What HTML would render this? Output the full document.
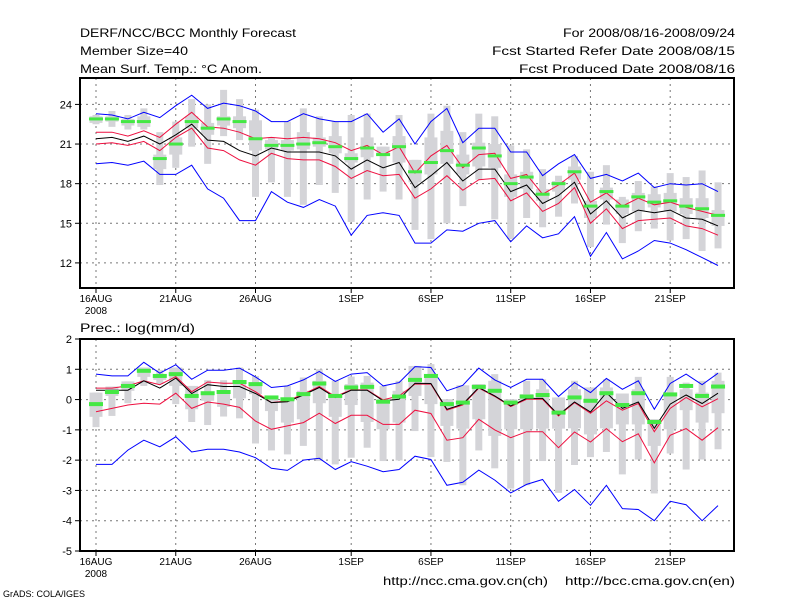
<!DOCTYPE html>
<html><head><meta charset="utf-8"><style>
body{margin:0;background:#fff;}
svg{display:block;font-family:"Liberation Sans",sans-serif;}
</style></head><body>
<svg id="chart" width="800" height="600" viewBox="0 0 800 600" xmlns="http://www.w3.org/2000/svg">
<rect width="800" height="600" fill="#fff"/>
<g font-size="12" fill="#000">
<text x="80" y="37" textLength="216" lengthAdjust="spacingAndGlyphs">DERF/NCC/BCC Monthly Forecast</text>
<text x="80" y="55" textLength="108" lengthAdjust="spacingAndGlyphs">Member Size=40</text>
<text x="80" y="73" textLength="182" lengthAdjust="spacingAndGlyphs">Mean Surf. Temp.: °C Anom.</text>
<text x="563" y="37" textLength="172" lengthAdjust="spacingAndGlyphs">For 2008/08/16-2008/09/24</text>
<text x="492" y="55" textLength="243" lengthAdjust="spacingAndGlyphs">Fcst Started Refer Date 2008/08/15</text>
<text x="519" y="73" textLength="216" lengthAdjust="spacingAndGlyphs">Fcst Produced Date 2008/08/16</text>
<text x="80" y="332" textLength="115" lengthAdjust="spacingAndGlyphs">Prec.: log(mm/d)</text>
<text x="383" y="585" textLength="165" lengthAdjust="spacingAndGlyphs">http://ncc.cma.gov.cn(ch)</text>
<text x="565" y="585" textLength="170" lengthAdjust="spacingAndGlyphs">http://bcc.cma.gov.cn(en)</text>
<text x="3" y="597" font-size="9">GrADS: COLA/IGES</text>
</g>
<g id="p1"></g>
<g id="p2"></g>
</svg>
<script>
const tickDays=[0,5,10,16,21,26,31,36];
const tickLabels=["16AUG","21AUG","26AUG","1SEP","6SEP","11SEP","16SEP","21SEP"];
const tTicks=[12,15,18,21,24];
const pTicks=[-5,-4,-3,-2,-1,0,1,2];
// Temperature
const tBlueHi=[23.3,23.2,22.9,23.4,23.0,23.9,24.7,23.7,24.1,23.9,23.5,22.7,22.7,23.3,22.9,22.7,22.7,23.3,21.9,22.9,21.0,22.7,23.7,21.1,22.2,22.2,20.4,20.4,18.6,19.5,20.2,18.4,18.7,18.2,18.8,17.7,18.0,17.9,18.0,17.4];
const tBlack=[21.4,21.5,21.2,21.6,21.0,21.7,22.5,21.3,21.2,20.5,20.1,20.7,20.4,20.4,20.4,20.1,19.1,19.8,19.2,19.6,17.7,18.6,19.6,18.2,19.1,19.1,17.4,17.9,16.5,17.1,18.1,15.7,16.7,15.4,16.0,15.8,16.0,15.4,15.3,14.8];
const tRedHi=[21.9,21.9,21.6,22.0,21.5,22.5,23.4,22.3,22.2,21.9,21.4,21.5,21.4,21.5,21.4,21.1,20.5,20.9,20.2,20.8,18.8,20.1,20.9,19.2,20.2,20.3,18.4,18.7,17.2,17.9,18.8,16.6,17.3,16.3,16.9,16.4,16.6,16.2,15.9,15.6];
const tRedLo=[21.0,21.1,20.9,21.2,20.5,21.5,22.2,20.7,20.5,19.8,19.4,20.3,19.9,19.8,19.8,19.3,18.4,19.0,18.6,18.7,16.9,17.6,18.6,17.5,18.3,18.4,16.7,17.3,15.9,16.5,17.7,15.0,16.1,14.6,15.2,15.3,15.4,14.8,14.6,14.1];
const tBlueLo=[19.5,19.6,19.4,19.7,18.7,18.7,19.4,17.6,16.9,15.2,15.2,17.4,16.6,16.2,16.8,16.3,14.1,15.6,15.8,15.6,13.5,13.5,14.5,14.4,15.0,15.2,13.6,14.8,13.9,14.2,15.5,12.5,14.3,12.3,12.9,13.7,13.5,13.0,12.4,11.8];
const tMed=[22.9,22.9,22.7,22.7,19.9,21.0,22.7,22.2,22.9,22.7,21.4,20.9,20.9,21.0,21.1,20.8,19.9,20.7,20.2,20.8,18.9,19.6,20.5,19.4,20.7,20.1,18.0,18.5,17.2,18.0,18.9,16.3,17.4,16.3,17.0,16.6,16.7,16.3,16.1,15.6];
const tMax=[23.2,23.5,23.2,23.7,21.9,22.7,24.4,24.0,25.1,24.4,23.6,21.5,22.7,23.7,23.1,22.7,23.2,23.3,20.8,23.2,19.8,23.3,23.9,21.9,23.3,23.1,20.9,20.6,19.1,18.6,20.1,18.9,19.4,17.0,18.2,17.8,18.8,18.5,19.0,18.1];
const tMin=[22.5,22.3,22.1,22.1,17.9,19.2,20.8,19.5,21.6,21.3,17.0,18.1,17.0,16.4,17.9,17.3,15.1,16.8,17.4,16.8,14.5,13.8,15.0,16.3,18.3,15.3,13.8,15.4,14.7,15.5,16.5,13.2,14.9,13.5,14.4,14.6,13.7,13.8,12.9,13.1];
const tQ3=[23.1,23.1,22.9,23.1,20.2,21.5,23.1,22.6,23.1,23.1,22.8,21.3,21.3,21.9,21.5,21.6,20.3,21.5,20.8,21.6,19.8,21.5,22.0,20.2,21.1,21.0,18.7,18.9,17.6,18.2,19.3,16.7,17.7,16.8,17.3,17.2,17.3,16.9,16.9,16.0];
const tQ1=[22.6,22.7,22.4,22.3,19.1,20.2,22.2,21.7,22.4,22.2,20.5,20.6,20.5,20.6,20.8,20.3,19.6,20.0,20.1,19.6,18.1,18.7,19.5,18.7,19.3,19.2,17.0,17.6,16.7,17.4,18.3,15.4,16.8,15.7,15.9,16.2,15.9,15.7,15.4,14.8];
// Precipitation
const pBlueHi=[0.84,0.78,0.78,1.23,0.87,1.15,0.67,0.97,0.97,1.04,0.75,0.40,0.45,0.65,0.93,0.60,0.84,0.89,0.45,0.56,1.09,1.06,0.29,0.47,1.04,0.65,0.40,0.67,0.67,0.10,0.56,0.23,0.70,0.34,0.62,-0.32,0.53,0.84,0.49,0.87];
const pBlack=[0.31,0.31,0.31,0.62,0.38,0.71,0.20,0.49,0.43,0.43,0.20,-0.10,-0.07,0.15,0.40,0.07,0.31,0.31,-0.04,0.01,0.54,0.53,-0.32,-0.15,0.40,0.12,-0.21,0.04,0.04,-0.51,-0.08,-0.41,0.23,-0.29,-0.08,-0.95,-0.15,0.15,-0.13,0.21];
const pRedHi=[0.38,0.38,0.45,0.62,0.49,0.76,0.26,0.58,0.54,0.54,0.26,-0.10,-0.04,0.18,0.43,0.10,0.32,0.32,-0.01,0.12,0.51,0.51,-0.35,-0.18,0.38,0.10,-0.23,0.01,0.01,-0.54,-0.10,-0.45,-0.04,-0.35,-0.13,-1.06,-0.29,0.07,-0.24,0.03];
const pRedLo=[-0.40,-0.29,-0.18,-0.12,-0.15,0.21,-0.29,-0.08,-0.15,-0.26,-0.71,-0.98,-0.87,-0.76,-0.45,-0.79,-0.52,-0.52,-0.82,-0.82,-0.35,-0.46,-1.34,-1.26,-0.65,-1.00,-1.26,-1.06,-1.06,-1.59,-1.07,-1.40,-0.96,-1.39,-1.13,-2.09,-1.18,-0.96,-1.34,-0.93];
const pBlueLo=[-2.14,-2.14,-1.67,-1.34,-1.56,-1.23,-1.73,-1.64,-1.64,-1.73,-1.92,-2.27,-2.34,-2.00,-1.94,-2.31,-2.05,-2.20,-2.38,-2.31,-1.87,-1.98,-2.83,-2.73,-2.33,-2.66,-3.08,-2.80,-2.64,-3.36,-2.97,-3.49,-2.83,-3.60,-3.63,-4.00,-3.36,-3.47,-4.00,-3.50];
const pMed=[-0.15,0.25,0.45,0.95,0.78,0.84,0.12,0.21,0.25,0.58,0.51,0.07,0.01,0.18,0.53,0.12,0.40,0.42,-0.07,0.10,0.65,0.78,-0.15,-0.10,0.42,0.29,-0.10,0.10,0.15,-0.43,0.07,-0.04,0.21,-0.18,0.21,-0.74,0.17,0.45,0.12,0.43];
const pMax=[0.23,0.43,0.60,1.06,0.98,1.06,0.45,0.64,0.64,1.06,0.78,0.07,0.45,0.73,1.00,0.62,0.76,0.78,0.45,0.62,1.11,1.17,0.01,0.47,0.51,0.84,0.01,0.62,0.67,0.07,0.62,0.40,0.67,0.20,0.75,-0.65,0.75,0.56,0.62,0.89];
const pMin=[-0.91,-0.54,-0.12,0.45,0.51,-0.15,-0.74,-0.84,-0.56,-0.62,-1.45,-1.68,-1.81,-1.53,-2.03,-2.14,-1.92,-1.59,-2.03,-2.01,-1.04,-1.90,-2.06,-2.83,-1.68,-2.27,-2.94,-2.83,-2.03,-3.08,-2.16,-1.90,-1.73,-2.47,-1.98,-3.10,-1.78,-2.31,-1.98,-1.64];
const pQ3=[0.23,0.43,0.60,1.06,0.84,1.06,0.45,0.26,0.26,0.62,0.56,0.07,0.07,0.29,0.62,0.18,0.51,0.56,0.01,0.29,1.11,0.73,0.01,0.47,0.51,0.62,0.01,0.18,0.34,0.07,0.34,0.40,0.40,0.20,0.34,-0.65,0.23,0.34,0.23,0.62];
const pQ1=[-0.57,0.12,0.29,0.75,0.65,0.45,-0.32,-0.04,-0.24,0.04,0.18,-0.38,-0.76,-0.65,-0.12,-0.57,-0.18,-0.74,-0.98,-0.76,0.12,-0.15,-0.87,-0.96,-0.65,-1.20,-0.98,-0.98,-0.96,-0.96,-0.95,-1.15,-0.95,-0.82,-0.82,-1.53,-0.98,-0.35,-0.76,-0.45];

const NS="http://www.w3.org/2000/svg";
function mk(parent,tag,attrs){const e=document.createElementNS(NS,tag);for(const k in attrs)e.setAttribute(k,attrs[k]);parent.appendChild(e);return e;}
const L=80,R=734;
const xs=i=>96+i*15.95;

function panel(g,top,bot,ymin,ymax,ticks,med,mx,mn,q3,q1,bhi,rhi,blk,rlo,blo,medH,prefix){
  const ys=v=>bot-(v-ymin)/(ymax-ymin)*(bot-top);
  ticks.forEach(t=>{const y=ys(t);
    if(y>top+1&&y<bot-1){const gl=mk(g,'line',{x1:L,x2:R,y1:y,y2:y,stroke:'#777','stroke-dasharray':'2,4','stroke-width':1});
    
    }
    const tk=mk(g,'line',{x1:L-5,x2:L,y1:y,y2:y,stroke:'#000','stroke-width':1});
    
    
    const tx=mk(g,'text',{x:L-8,y:y+4,'text-anchor':'end','font-size':11});
    tx.textContent=t;
    
    
  });
  tickDays.forEach((d,k)=>{const x=xs(d);
    const vl=mk(g,'line',{x1:x,x2:x,y1:top,y2:bot,stroke:'#777','stroke-dasharray':'2,4','stroke-width':1});
    
    
    const tk=mk(g,'line',{x1:x,x2:x,y1:bot,y2:bot+5,stroke:'#000'});
    
    
    const tx=mk(g,'text',{x:x,y:bot+14,'text-anchor':'middle','font-size':10});
    tx.textContent=tickLabels[k];
    
    
  });
  const yr=mk(g,'text',{x:xs(0),y:bot+26,'text-anchor':'middle','font-size':10});
  yr.textContent='2008';
  
  
  med.forEach((_,i)=>{const x=xs(i);
    const b=mk(g,'rect',{x:x-3.5,y:ys(mx[i]),width:7,height:Math.max(1,ys(mn[i])-ys(mx[i])),fill:'#d4d4d8'});
    
    
    const q=mk(g,'rect',{x:x-6.5,y:ys(q3[i]),width:13,height:Math.max(1,ys(q1[i])-ys(q3[i])),fill:'#d4d4d8'});
    
    
  });
  const line=(arr,col,name)=>{const p=mk(g,'polyline',{points:arr.map((v,i)=>xs(i).toFixed(1)+','+ys(v).toFixed(1)).join(' '),fill:'none',stroke:col,'stroke-width':1});
    
    };
  line(blo,'#0000ff',prefix+'-min-line');
  line(bhi,'#0000ff',prefix+'-max-line');
  line(rlo,'#ee1040',prefix+'-lower-line');
  line(rhi,'#ee1040',prefix+'-upper-line');
  line(blk,'#000000',prefix+'-mean-line');
  med.forEach((v,i)=>{const m=mk(g,'rect',{x:xs(i)-7,y:ys(v)-medH/2,width:14,height:medH,fill:'#44e844'});
    
    });
  const f=mk(g,'rect',{x:L,y:top,width:R-L,height:bot-top,fill:'none',stroke:'#000','stroke-width':2});
  
  
}
panel(document.getElementById('p1'),78,288,10.1,26,tTicks,tMed,tMax,tMin,tQ3,tQ1,tBlueHi,tRedHi,tBlack,tRedLo,tBlueLo,3,'temp');
panel(document.getElementById('p2'),339,551,-5,2,pTicks,pMed,pMax,pMin,pQ3,pQ1,pBlueHi,pRedHi,pBlack,pRedLo,pBlueLo,4,'prec');
</script>
</body></html>
